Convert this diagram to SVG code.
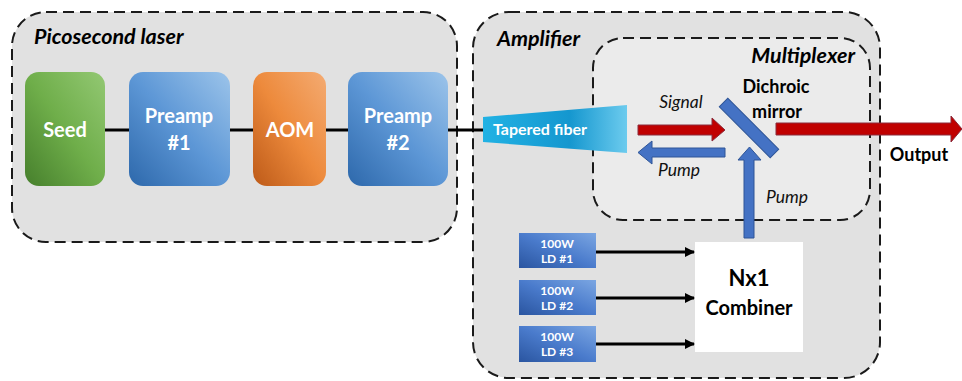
<svg xmlns="http://www.w3.org/2000/svg" width="962" height="381" viewBox="0 0 962 381">
  <defs>
    <linearGradient id="gGreen" x1="1" y1="0" x2="0" y2="1">
      <stop offset="0" stop-color="#93c873"/>
      <stop offset="0.5" stop-color="#6fae4a"/>
      <stop offset="1" stop-color="#467f2c"/>
    </linearGradient>
    <linearGradient id="gBlue" x1="1" y1="0" x2="0" y2="1">
      <stop offset="0" stop-color="#9cc4ea"/>
      <stop offset="0.5" stop-color="#5d97d6"/>
      <stop offset="1" stop-color="#2d68ab"/>
    </linearGradient>
    <linearGradient id="gOrange" x1="1" y1="0" x2="0" y2="1">
      <stop offset="0" stop-color="#f4ab72"/>
      <stop offset="0.5" stop-color="#ed8a3c"/>
      <stop offset="1" stop-color="#bd5a18"/>
    </linearGradient>
    <linearGradient id="gLD" x1="1" y1="0" x2="0" y2="1">
      <stop offset="0" stop-color="#7ba6e2"/>
      <stop offset="0.5" stop-color="#4a7bcc"/>
      <stop offset="1" stop-color="#2a55a0"/>
    </linearGradient>
    <linearGradient id="gTaper" x1="0" y1="0" x2="1" y2="0">
      <stop offset="0" stop-color="#22b2e4"/>
      <stop offset="0.6" stop-color="#1597cf"/>
      <stop offset="1" stop-color="#6ccbee"/>
    </linearGradient>
    <marker id="arr" markerWidth="10" markerHeight="10" refX="9" refY="5" orient="auto" markerUnits="userSpaceOnUse">
      <path d="M0,0 L10,5 L0,10 z" fill="#000"/>
    </marker>
    <style>
      .frame { stroke: #1a1a1a; stroke-width: 2; stroke-dasharray: 11 6; }
      .lbl { font-family: Lato, "Open Sans", sans-serif; font-weight: bold; fill: #fff; text-anchor: middle; }
      .hdr { font-family: Lato, "Open Sans", sans-serif; font-weight: bold; font-style: italic; fill: #000; font-size: 21.5px; }
      .it { font-family: Lato, "Open Sans", sans-serif; font-style: italic; fill: #111; font-size: 17.5px; text-anchor: middle; }
      .bk { font-family: Lato, "Open Sans", sans-serif; font-weight: bold; fill: #000; text-anchor: middle; }
      .wire { stroke: #000; stroke-width: 3; fill: none; }
      .red { fill: #c00000; stroke: #8b2a3a; stroke-width: 1; }
      .blu { fill: #4472c4; stroke: #2f5597; stroke-width: 1; }
    </style>
  </defs>

  <!-- group frames -->
  <g id="picosecond-laser">
    <rect class="frame" x="12" y="12" width="445" height="230" rx="34" fill="#e1e1e1"/>
    <text class="hdr" x="34" y="44" font-size="22px">Picosecond laser</text>
  </g>
  <g id="amplifier">
    <rect class="frame" x="473" y="12" width="407" height="366" rx="36" fill="#e1e1e1"/>
    <text class="hdr" x="497" y="46">Amplifier</text>
  </g>
  <g id="multiplexer">
    <rect class="frame" x="593" y="38" width="277" height="182" rx="30" fill="#ebebeb"/>
    <text class="hdr" x="855" y="63" text-anchor="end">Multiplexer</text>
  </g>

  <!-- connectors -->
  <g id="connectors">
    <line class="wire" x1="105" y1="130" x2="129" y2="130"/>
    <line class="wire" x1="230" y1="130" x2="253" y2="130"/>
    <line class="wire" x1="326" y1="130" x2="348" y2="130"/>
    <line class="wire" x1="448" y1="130" x2="484" y2="130"/>
    <line class="wire" x1="596" y1="252" x2="694" y2="252" marker-end="url(#arr)"/>
    <line class="wire" x1="596" y1="298" x2="694" y2="298" marker-end="url(#arr)"/>
    <line class="wire" x1="596" y1="344" x2="694" y2="344" marker-end="url(#arr)"/>
  </g>

  <!-- laser chain -->
  <g id="seed">
    <rect x="25" y="72" width="80" height="114" rx="14" fill="url(#gGreen)"/>
    <text class="lbl" x="65" y="137" font-size="20">Seed</text>
  </g>
  <g id="preamp1">
    <rect x="129" y="72" width="101" height="114" rx="14" fill="url(#gBlue)"/>
    <text class="lbl" x="179" y="123" font-size="20">Preamp</text>
    <text class="lbl" x="179" y="150" font-size="20">#1</text>
  </g>
  <g id="aom">
    <rect x="253" y="72" width="73" height="114" rx="14" fill="url(#gOrange)"/>
    <text class="lbl" x="290" y="137" font-size="20">AOM</text>
  </g>
  <g id="preamp2">
    <rect x="348" y="72" width="100" height="114" rx="14" fill="url(#gBlue)"/>
    <text class="lbl" x="398" y="123" font-size="20">Preamp</text>
    <text class="lbl" x="398" y="150" font-size="20">#2</text>
  </g>

  <!-- tapered fiber -->
  <g id="tapered-fiber">
    <polygon points="483,117 627,105 627,153 483,142" fill="url(#gTaper)"/>
    <text class="lbl" x="540" y="135" font-size="16">Tapered fiber</text>
  </g>

  <!-- beams -->
  <g id="signal-beam">
    <polygon class="red" points="638,125 712,125 712,118 725,130 712,141 712,135 638,135"/>
    <text class="it" x="681" y="108">Signal</text>
  </g>
  <g id="pump-back">
    <polygon class="blu" points="725,148 652,148 652,141 638,152.5 652,164 652,157 725,157"/>
    <text class="it" x="679" y="176">Pump</text>
  </g>
  <g id="dichroic-mirror">
    <rect class="blu" x="713" y="122" width="72" height="12" transform="rotate(45 749 128)"/>
    <text class="bk" x="776" y="93" font-size="18">Dichroic</text>
    <text class="bk" x="777" y="118" font-size="18">mirror</text>
  </g>
  <g id="pump-up">
    <polygon class="blu" points="744,238 744,160 738,160 749.5,147 761,160 754,160 754,238"/>
    <text class="it" x="787" y="203">Pump</text>
  </g>
  <g id="output-beam">
    <polygon class="red" points="776,123 951,123 951,116 962,129 951,142 951,135 776,135"/>
    <text class="bk" x="919" y="161" font-size="18">Output</text>
  </g>

  <!-- pump sources -->
  <g id="ld1">
    <rect x="519" y="233" width="77" height="35" fill="url(#gLD)"/>
    <text class="lbl" x="557" y="248" font-size="12">100W</text>
    <text class="lbl" x="557" y="263" font-size="12">LD #1</text>
  </g>
  <g id="ld2">
    <rect x="519" y="280" width="77" height="35" fill="url(#gLD)"/>
    <text class="lbl" x="557" y="295" font-size="12">100W</text>
    <text class="lbl" x="557" y="310" font-size="12">LD #2</text>
  </g>
  <g id="ld3">
    <rect x="519" y="326" width="77" height="36" fill="url(#gLD)"/>
    <text class="lbl" x="557" y="341" font-size="12">100W</text>
    <text class="lbl" x="557" y="356" font-size="12">LD #3</text>
  </g>
  <g id="combiner">
    <rect x="695" y="242" width="108" height="110" fill="#fff"/>
    <text class="bk" x="749" y="286" font-size="22">Nx1</text>
    <text class="bk" x="749" y="315" font-size="20">Combiner</text>
  </g>
</svg>
